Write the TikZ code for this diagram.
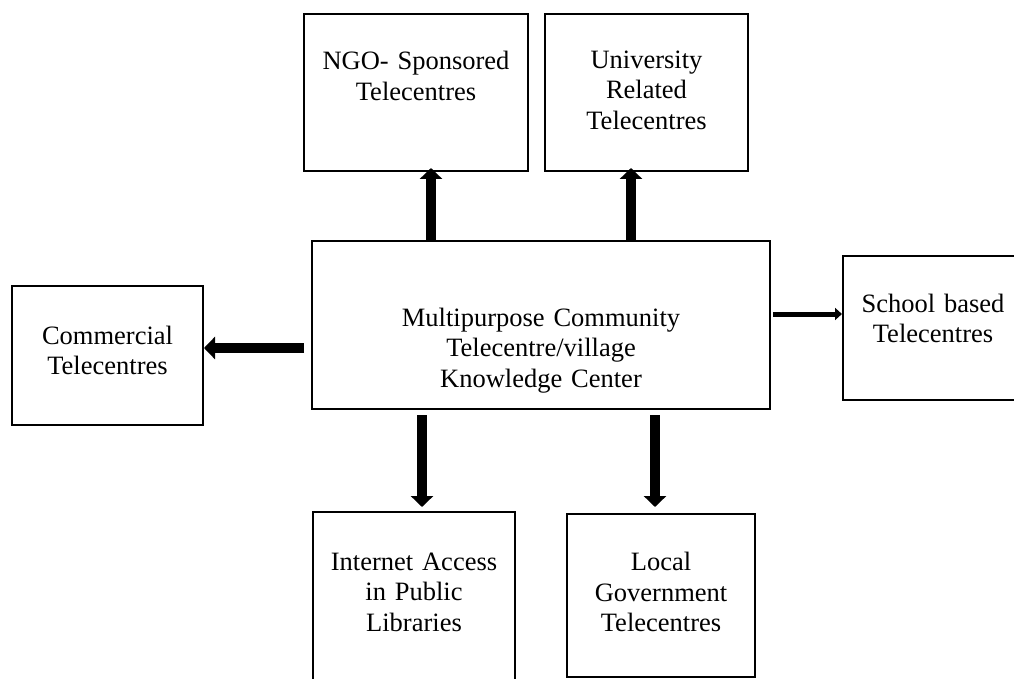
\documentclass[tikz,border=0pt]{standalone}
\usepackage{fontspec}
\setmainfont{Liberation Serif}
\usepackage{tikz}
\usetikzlibrary{arrows.meta}
\newcommand{\tcfont}{\fontsize{26.5}{30.5}\selectfont}
\tikzset{
  tcbox/.style={
    draw=black,
    line width=2pt,
    anchor=north,
    align=center,
    inner xsep=0pt,
    inner ysep=0pt,
    font=\tcfont
  },
  tcarrow/.style={-{Triangle[length=11pt,width=22pt]}, line width=10pt, draw=black},
  tcthin/.style={-{Triangle[length=7pt,width=12pt]}, line width=5pt, draw=black}
}

\begin{document}
\begin{tikzpicture}[x=1pt,y=-1pt]
    \useasboundingbox (0,0) rectangle (1014,679);

    \node[tcbox, text width=458pt, text height=85pt, text depth=83pt] (hub) at (541,240)
      {Multipurpose Community\\Telecentre/village\\Knowledge Center};

    \node[tcbox, text width=224pt, text height=56pt, text depth=101pt] (ngo) at (416,13)
      {NGO- Sponsored\\Telecentres};
    \node[tcbox, text width=203pt, text height=54.5pt, text depth=102.5pt] (univ) at (646.5,13)
      {University\\Related\\Telecentres};

    \node[tcbox, text width=191pt, text height=58pt, text depth=81pt] (comm) at (107.5,285)
      {Commercial\\Telecentres};
    \node[tcbox, text width=180pt, text height=56pt, text depth=88pt] (school) at (933,255)
      {School based\\Telecentres};

    \node[tcbox, text width=202pt, text height=58pt, text depth=121pt] (lib) at (414,511)
      {Internet Access\\in Public\\Libraries};
    \node[tcbox, text width=188pt, text height=56.5pt, text depth=106.5pt] (local) at (661,513)
      {Local\\Government\\Telecentres};

    \draw[tcarrow, shorten >=-4pt] ([xshift=-110pt]hub.north) -- ([xshift=15pt]ngo.south);
    \draw[tcarrow, shorten >=-4pt] ([xshift=90pt]hub.north) -- ([xshift=-15.5pt]univ.south);

    \draw[tcarrow, shorten <=7pt] ([yshift=-23pt]hub.west) -- ([yshift=7.5pt]comm.east);
    \draw[tcthin, shorten <=2pt] ([yshift=11pt]hub.east) -- ([yshift=14pt]school.west);

    \draw[tcarrow, shorten <=5pt, shorten >=4pt] ([xshift=-119pt]hub.south) -- ([xshift=8pt]lib.north);
    \draw[tcarrow, shorten <=5pt, shorten >=6pt] ([xshift=114pt]hub.south) -- ([xshift=-6pt]local.north);
  \end{tikzpicture}
\end{document}
